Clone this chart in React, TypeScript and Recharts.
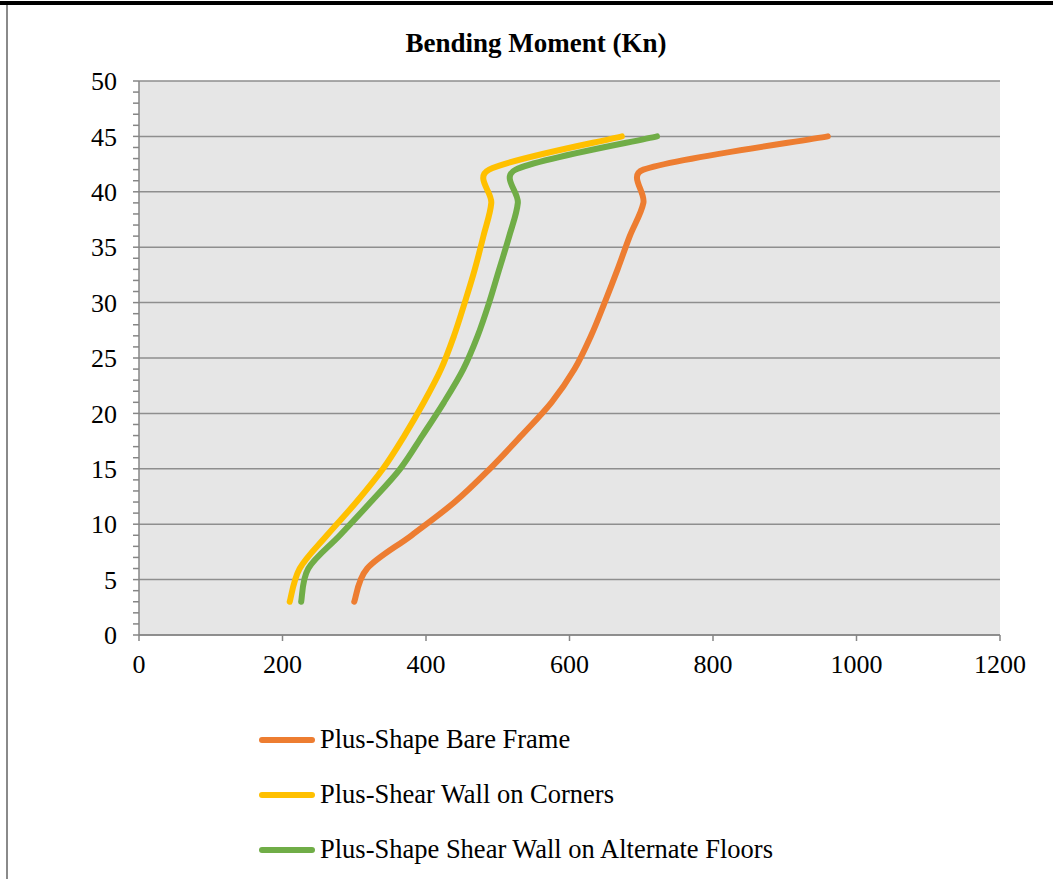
import React from 'react';
import { LineChart, Line, XAxis, YAxis, CartesianGrid, Legend } from 'recharts';

const storeyHeights = [3, 6, 9, 12, 15, 18, 21, 24, 27, 30, 33, 36, 39, 42, 45];
const bareFrame = [300, 318, 380, 440, 489, 533, 575, 607, 630, 649, 667, 684, 703, 703, 960];
const cornerWalls = [210, 224, 262, 303, 340, 370, 397, 421, 439, 454, 468, 480, 491, 488, 673];
const alternateFloors = [226, 236, 280, 323, 364, 395, 425, 452, 472, 488, 502, 516, 528, 525, 722];

const seriesNames = [
  'Plus-Shape Bare Frame',
  'Plus-Shear Wall on Corners',
  'Plus-Shape Shear Wall on Alternate Floors',
];
const seriesColors = ['#ED7D31', '#FFC000', '#70AD47'];
const seriesKeys = ['bare', 'corners', 'alternate'];

const xTicks = [0, 200, 400, 600, 800, 1000, 1200];
const yMinorTicks = [
  0, 1, 2, 3, 4, 5, 6, 7, 8, 9, 10, 11, 12, 13, 14, 15, 16, 17, 18, 19, 20,
  21, 22, 23, 24, 25, 26, 27, 28, 29, 30, 31, 32, 33, 34, 35, 36, 37, 38, 39, 40,
  41, 42, 43, 44, 45, 46, 47, 48, 49, 50,
];
const yLabelTicks = [0, 5, 10, 15, 20, 25, 30, 35, 40, 45, 50];

const data = storeyHeights.map((h, i) => ({
  y: h,
  bare: bareFrame[i],
  corners: cornerWalls[i],
  alternate: alternateFloors[i],
}));

const FONT = '"Liberation Serif", "Times New Roman", serif';

// Excel-like smoothing: Catmull-Rom tangents (1/6) with arms capped at half the segment length
const excelSmooth: any = (context: any) => {
  let pts: number[][] = [];
  const dist = (a: number[], b: number[]) => Math.hypot(b[0] - a[0], b[1] - a[1]);
  return {
    areaStart() {},
    areaEnd() {},
    lineStart() {
      pts = [];
    },
    point(x: number, y: number) {
      pts.push([+x, +y]);
    },
    lineEnd() {
      const n = pts.length;
      if (!n) return;
      context.moveTo(pts[0][0], pts[0][1]);
      for (let i = 0; i < n - 1; i++) {
        const p0 = pts[i - 1] || pts[i];
        const p1 = pts[i];
        const p2 = pts[i + 1];
        const p3 = pts[i + 2] || p2;
        const seg = dist(p1, p2);
        const d02 = dist(p0, p2);
        const d13 = dist(p1, p3);
        let f1 = 1 / 6;
        let f2 = 1 / 6;
        if (d02 / 6 > seg / 2 && d02 > 0) f1 = seg / 2 / d02;
        if (d13 / 6 > seg / 2 && d13 > 0) f2 = seg / 2 / d13;
        context.bezierCurveTo(
          p1[0] + (p2[0] - p0[0]) * f1,
          p1[1] + (p2[1] - p0[1]) * f1,
          p2[0] - (p3[0] - p1[0]) * f2,
          p2[1] - (p3[1] - p1[1]) * f2,
          p2[0],
          p2[1]
        );
      }
    },
  };
};

const YTick = (props: any) => {
  const { x, y, payload } = props;
  if (!yLabelTicks.includes(payload.value)) return <g />;
  return (
    <text x={x} y={y} dy="0.355em" textAnchor="end" fontFamily={FONT} fontSize={26} fill="#000">
      {payload.value}
    </text>
  );
};

const LegendContent = () => (
  <div style={{ fontFamily: FONT, fontSize: 26.5, color: '#000' }}>
    {seriesNames.map((name, i) => (
      <div key={name} style={{ display: 'flex', alignItems: 'center', height: 55, whiteSpace: 'nowrap' }}>
        <svg width={62} height={12} style={{ marginRight: 2, flex: 'none' }}>
          <line x1={6} y1={6} x2={56} y2={6} stroke={seriesColors[i]} strokeWidth={6} strokeLinecap="round" />
        </svg>
        <span>{name}</span>
      </div>
    ))}
  </div>
);

export default function App() {
  return (
    <div style={{ position: 'absolute', left: 0, top: 0, width: 1053, height: 879, background: '#fff', overflow: 'hidden' }}>
      <div style={{ position: 'absolute', left: 0, top: 1, width: 1053, height: 4, background: '#000' }} />
      <div style={{ position: 'absolute', left: 6, top: 5, width: 2, height: 874, background: '#8a8a8a' }} />
      <div
        style={{
          position: 'absolute',
          left: 0,
          top: 28,
          width: 1072,
          textAlign: 'center',
          fontFamily: FONT,
          fontWeight: 'bold',
          fontSize: 27,
          lineHeight: 'normal',
          color: '#000',
        }}
      >
        Bending Moment (Kn)
      </div>
      <div style={{ position: 'absolute', left: 0, top: 0 }}>
        <LineChart
          width={1053}
          height={879}
          data={data}
          layout="vertical"
          margin={{ top: 81, right: 53, left: 0, bottom: 184 }}
        >
          <CartesianGrid
            vertical={false}
            horizontalValues={yLabelTicks}
            fill="#e6e6e6"
            fillOpacity={1}
            stroke="#8e8e8e"
            strokeWidth={1.5}
          />
          <XAxis
            type="number"
            domain={[0, 1200]}
            ticks={xTicks}
            interval={0}
            tickSize={6}
            tickMargin={14}
            axisLine={{ stroke: '#868686', strokeWidth: 1.5 }}
            tickLine={{ stroke: '#868686', strokeWidth: 1.5 }}
            tick={{ fontFamily: FONT, fontSize: 26, fill: '#000' }}
            height={60}
          />
          <YAxis
            type="number"
            dataKey="y"
            domain={[0, 50]}
            ticks={yMinorTicks}
            interval={0}
            reversed
            width={139}
            tickSize={6}
            tickMargin={16}
            axisLine={{ stroke: '#868686', strokeWidth: 1.5 }}
            tickLine={{ stroke: '#868686', strokeWidth: 1.5 }}
            tick={<YTick />}
          />
          {seriesKeys.map((k, i) => (
            <Line
              key={k}
              dataKey={k}
              name={seriesNames[i]}
              type={excelSmooth}
              stroke={seriesColors[i]}
              strokeWidth={6}
              strokeLinecap="round"
              strokeLinejoin="round"
              dot={false}
              activeDot={false}
              isAnimationActive={false}
            />
          ))}
          <Legend
            layout="horizontal"
            verticalAlign="middle"
            align="center"
            content={<LegendContent />}
            wrapperStyle={{ position: 'absolute', left: 256, top: 712, width: 700, height: 170 }}
          />
        </LineChart>
      </div>
    </div>
  );
}
